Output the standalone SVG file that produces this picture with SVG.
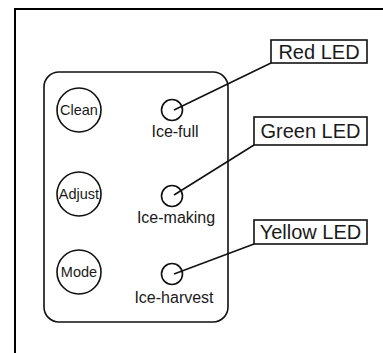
<svg xmlns="http://www.w3.org/2000/svg" width="383" height="353" viewBox="0 0 383 353">
<style>
.ln{fill:none;stroke:#111;stroke-width:1.6}
.btn{fill:#fff;stroke:#111;stroke-width:1.6}
.t{font-family:"Liberation Sans",Arial,sans-serif;fill:#1a1a1a}
.bt{font-size:14.5px}
.lt{font-size:16px}
.bx{fill:#fff;stroke:#111;stroke-width:1.6}
.bxt{font-size:20px}
</style>
<rect width="383" height="353" fill="#fff"/>
<path d="M15,353 V9 H383" fill="none" stroke="#000" stroke-width="2"/>
<rect x="44" y="72" width="184" height="250" rx="15" class="ln"/>
<g id="connectors">
<line x1="174" y1="110" x2="271" y2="63" class="ln"/>
<line x1="174" y1="195" x2="254" y2="145" class="ln"/>
<line x1="174" y1="274" x2="254" y2="244" class="ln"/>
</g>
<g id="clean"><circle cx="79" cy="110" r="22" class="btn"/><text x="79" y="115" text-anchor="middle" class="t bt">Clean</text></g>
<g id="adjust"><circle cx="79" cy="194" r="22" class="btn"/><text x="79" y="199" text-anchor="middle" class="t bt">Adjust</text></g>
<g id="mode"><circle cx="79" cy="272" r="22" class="btn"/><text x="79" y="277" text-anchor="middle" class="t bt">Mode</text></g>
<g id="ice-full"><circle cx="172" cy="110" r="10.5" class="ln"/><text x="175" y="137" text-anchor="middle" class="t lt">Ice-full</text></g>
<g id="ice-making"><circle cx="172" cy="196" r="10.5" class="ln"/><text x="176" y="223" text-anchor="middle" class="t lt">Ice-making</text></g>
<g id="ice-harvest"><circle cx="172" cy="274" r="10.5" class="ln"/><text x="174" y="303" text-anchor="middle" class="t lt">Ice-harvest</text></g>
<g id="red-led"><rect x="271" y="40" width="96" height="23" class="bx"/><text x="319" y="59" text-anchor="middle" class="t bxt">Red LED</text></g>
<g id="green-led"><rect x="254" y="117" width="113" height="28" class="bx"/><text x="310.5" y="138" text-anchor="middle" class="t bxt">Green LED</text></g>
<g id="yellow-led"><rect x="254" y="220" width="113" height="24" class="bx"/><text x="310.5" y="239" text-anchor="middle" class="t bxt">Yellow LED</text></g>
</svg>
